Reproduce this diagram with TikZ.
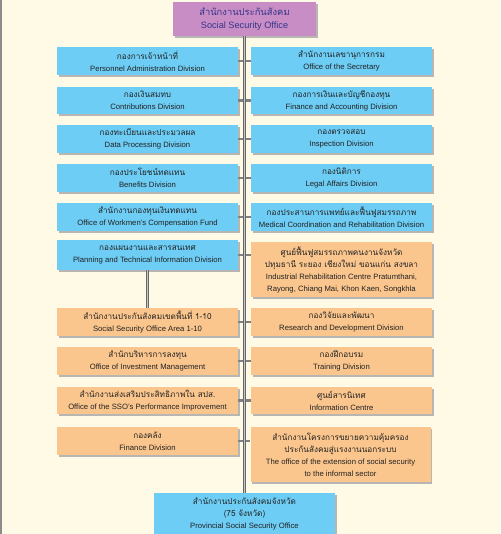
\documentclass[tikz,border=0pt]{standalone}
\usepackage{fontspec}
\setmainfont{Liberation Sans}
\newfontfamily\thai[Script=Thai]{Loma}
\usetikzlibrary{shadows}
\definecolor{bg}{HTML}{FEFAE6}
\definecolor{bluebox}{HTML}{6DCDF5}
\definecolor{orangebox}{HTML}{FBC68E}
\definecolor{purplebox}{HTML}{C98DC5}
\definecolor{titletext}{HTML}{35358A}
\definecolor{boxtext}{HTML}{222222}
\newcommand{\thl}[1]{{\thai\fontsize{8.2}{12}\selectfont #1}}
\newcommand{\thtl}[1]{{\thai\fontsize{9.4}{13}\selectfont #1}}
\tikzset{
  unit/.style={draw=none, inner sep=0pt, minimum width=181pt, align=center,
    text=boxtext, font=\fontsize{7.7}{12}\selectfont,
    drop shadow={shadow xshift=1.6pt, shadow yshift=-1.6pt, fill=black!35, opacity=0.8}},
  bluebox/.style={unit, fill=bluebox},
  orangebox/.style={unit, fill=orangebox},
  titlebox/.style={unit, fill=purplebox, minimum width=143pt, minimum height=34pt,
    text=titletext, font=\fontsize{9.2}{13}\selectfont},
  spine/.style={draw=black!60, line width=1pt, double=black!22, double distance=1.8pt},
  stub/.style={draw=black!50, line width=2.4pt},
}
\begin{document}
\begin{tikzpicture}[x=1pt, y=-1pt]
\fill[bg] (0,0) rectangle (500,534);
\useasboundingbox (0,0) rectangle (500,534);
\draw[black!45, line width=1.6pt] (0.8,0) -- (0.8,534);

% title
\node[titlebox] (top) at (244.5,19) {\thtl{สำนักงานประกันสังคม}\\Social Security Office};

% left column
\node[bluebox, minimum height=28pt] (L1) at (147.5,61) {\thl{กองการเจ้าหน้าที่}\\Personnel Administration Division};
\node[bluebox, minimum height=27pt] (L2) at (147.5,100.5) {\thl{กองเงินสมทบ}\\Contributions Division};
\node[bluebox, minimum height=28pt] (L3) at (147.5,139) {\thl{กองทะเบียนและประมวลผล}\\Data Processing Division};
\node[bluebox, minimum height=28pt] (L4) at (147.5,178) {\thl{กองประโยชน์ทดแทน}\\Benefits Division};
\node[bluebox, minimum height=28pt] (L5) at (147.5,217) {\thl{สำนักงานกองทุนเงินทดแทน}\\Office of Workmen's Compensation Fund};
\node[bluebox, minimum height=30pt] (L6) at (147.5,255) {\thl{กองแผนงานและสารสนเทศ}\\Planning and Technical Information Division};
\node[orangebox, minimum height=28pt] (L7) at (147.5,322) {\thl{สำนักงานประกันสังคมเขตพื้นที่ 1-10}\\Social Security Office Area 1-10};
\node[orangebox, minimum height=28pt] (L8) at (147.5,361) {\thl{สำนักบริหารการลงทุน}\\Office of Investment Management};
\node[orangebox, minimum height=27pt] (L9) at (147.5,400.5) {\thl{สำนักงานส่งเสริมประสิทธิภาพใน สปส.}\\Office of the SSO's Performance Improvement};
\node[orangebox, minimum height=28pt] (L10) at (147.5,441) {\thl{กองคลัง}\\Finance Division};

% right column
\node[bluebox, minimum height=28pt] (R1) at (341.5,61) {\thl{สำนักงานเลขานุการกรม}\\Office of the Secretary};
\node[bluebox, minimum height=27pt] (R2) at (341.5,100.5) {\thl{กองการเงินและบัญชีกองทุน}\\Finance and Accounting Division};
\node[bluebox, minimum height=28pt] (R3) at (341.5,139) {\thl{กองตรวจสอบ}\\Inspection Division};
\node[bluebox, minimum height=28pt] (R4) at (341.5,178) {\thl{กองนิติการ}\\Legal Affairs Division};
\node[bluebox, minimum height=28pt] (R5) at (341.5,217) {\thl{กองประสานการแพทย์และฟื้นฟูสมรรถภาพ}\\Medical Coordination and Rehabilitation Division};
\node[orangebox, minimum height=55pt] (R6) at (341.5,269.5) {\thl{ศูนย์ฟื้นฟูสมรรถภาพคนงานจังหวัด}\\\thl{ปทุมธานี ระยอง เชียงใหม่ ขอนแก่น สงขลา}\\Industrial Rehabilitation Centre Pratumthani,\\Rayong, Chiang Mai, Khon Kaen, Songkhla};
\node[orangebox, minimum height=28pt] (R7) at (341.5,322) {\thl{กองวิจัยและพัฒนา}\\Research and Development Division};
\node[orangebox, minimum height=28pt] (R8) at (341.5,361) {\thl{กองฝึกอบรม}\\Training Division};
\node[orangebox, minimum height=27pt] (R9) at (341.5,400.5) {\thl{ศูนย์สารนิเทศ}\\Information Centre};
\node[orangebox, minimum height=55pt, minimum width=180pt] (R10) at (340.5,454.5) {\thl{สำนักงานโครงการขยายความคุ้มครอง}\\\thl{ประกันสังคมสู่แรงงานนอกระบบ}\\The office of the extension of social security\\to the informal sector};

% bottom
\node[bluebox, minimum height=41pt] (bot) at (244.5,513.5) {\thl{สำนักงานประกันสังคมจังหวัด}\\\thl{(75 จังหวัด)}\\Provincial Social Security Office};

% connectors
\foreach \r in {1,...,10} {
  \draw[stub] (L\r.east) -- (L\r.east -| R\r.west);
}
\draw[spine] (top.south) -- (bot.north);
\draw[spine] (L6.south) -- (L7.north);
\end{tikzpicture}
\end{document}
